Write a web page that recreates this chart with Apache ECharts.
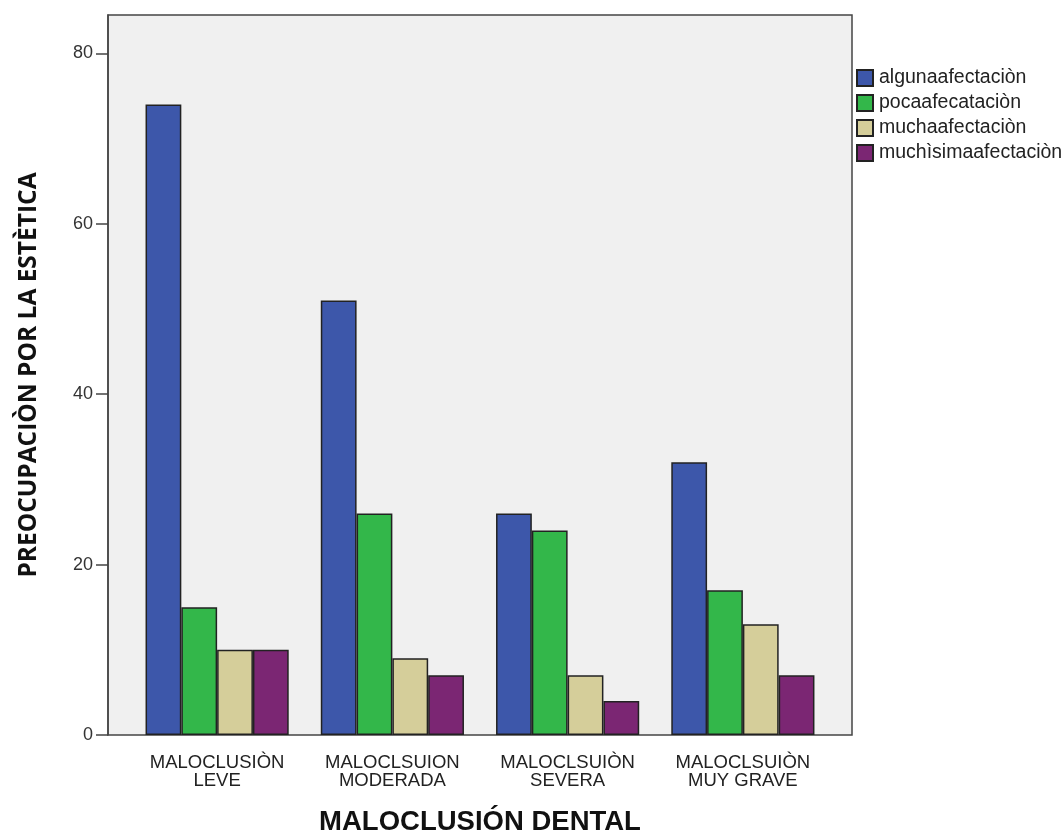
<!DOCTYPE html>
<html>
<head>
<meta charset="utf-8">
<script src="https://cdn.jsdelivr.net/npm/echarts@6/dist/echarts.min.js"></script>
<style>html,body{margin:0;padding:0;background:#fff;overflow:hidden}#c{width:1064px;height:835px}</style>
</head>
<body>
<div id="c"></div>
<script>
const categories = ['MALOCLUSIÒN\nLEVE', 'MALOCLSUION\nMODERADA', 'MALOCLSUIÒN\nSEVERA', 'MALOCLSUIÒN\nMUY GRAVE'];
const seriesNames = ['algunaafectaciòn', 'pocaafecataciòn', 'muchaafectaciòn', 'muchìsimaafectaciòn'];
const alguna = [74, 51, 26, 32];
const poca = [15, 26, 24, 17];
const mucha = [10, 9, 7, 13];
const muchisima = [10, 7, 4, 7];
const yTicks = [0, 20, 40, 60, 80];
const colors = ['#3d57aa', '#33b74a', '#d5ce9a', '#7b2673'];
const seriesData = [alguna, poca, mucha, muchisima];

const FONT = 'Liberation Sans, Arial, sans-serif';
const chart = echarts.init(document.getElementById('c'), null, {renderer: 'canvas'});
chart.setOption({
  animation: false,
  backgroundColor: '#ffffff',
  grid: [
    {left: 108, right: 212, top: 15, bottom: 100, outerBoundsMode: 'none', containLabel: false, show: true, backgroundColor: '#f0f0f0', borderColor: '#444', borderWidth: 1.5},
    {left: 129.5, right: 233.5, top: 15, bottom: 100, outerBoundsMode: 'none', containLabel: false}
  ],
  legend: {
    orient: 'vertical', left: 856, top: 68, itemWidth: 16, itemHeight: 16, itemGap: 5,
    icon: 'rect', padding: 0,
    textStyle: {fontFamily: FONT, fontSize: 19.5, color: '#222', lineHeight: 18, padding: [0, 0, 0, 1]},
    data: seriesNames
  },
  xAxis: [
    {
      type: 'category', gridIndex: 0, data: categories, show: true,
      axisLine: {show: false}, axisTick: {show: false}, axisLabel: {show: false},
      name: 'MALOCLUSIÓN DENTAL', nameLocation: 'middle', nameGap: 73,
      nameTextStyle: {fontFamily: FONT, fontWeight: 'bold', fontSize: 27.5, color: '#111'}
    },
    {
      type: 'category', gridIndex: 1, data: categories,
      axisLine: {show: false},
      axisTick: {alignWithLabel: true, length: 10, lineStyle: {color: '#444', width: 1.5}},
      axisLabel: {fontFamily: FONT, fontSize: 18.5, color: '#222', lineHeight: 18, margin: 19, interval: 0}
    }
  ],
  yAxis: [
    {
      type: 'value', gridIndex: 0, min: 0, max: 84.5, interval: 20,
      splitLine: {show: false},
      axisLine: {show: true, lineStyle: {color: '#444', width: 1.5}},
      axisTick: {show: true, length: 12, customValues: yTicks, lineStyle: {color: '#444', width: 1.5}},
      axisLabel: {fontFamily: FONT, fontSize: 18, color: '#333', margin: 15, customValues: yTicks},
      name: 'PREOCUPACIÒN POR LA ESTÈTICA', nameLocation: 'middle', nameGap: 66,
      nameTextStyle: {fontFamily: 'Open Sans, sans-serif', fontWeight: 'bold', fontSize: 24.5, color: '#111'}
    },
    {
      type: 'value', gridIndex: 1, min: 0, max: 84.5, interval: 20, show: false,
      splitLine: {show: false}
    }
  ],
  series: seriesNames.map((n, i) => ({
    name: n, type: 'bar', data: seriesData[i], xAxisIndex: 1, yAxisIndex: 1,
    barGap: '0%', barCategoryGap: '18.3%',
    itemStyle: {color: colors[i], borderColor: '#222', borderWidth: 1.5}
  }))
});
</script>
</body>
</html>
